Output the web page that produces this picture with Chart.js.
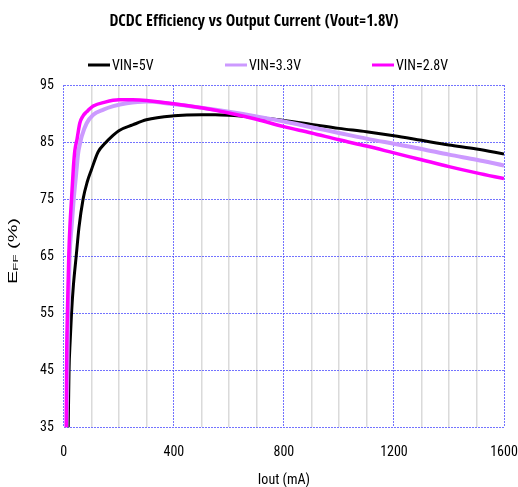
<!DOCTYPE html>
<html>
<head>
<meta charset="utf-8">
<script src="https://cdn.jsdelivr.net/npm/chart.js@4.4.1/dist/chart.umd.min.js"></script>
<style>
  body { margin: 0; background: #fff; }
  #wrap { width: 518px; height: 487px; }
</style>
</head>
<body>
<div id="wrap"><canvas id="chart" width="518" height="487"></canvas></div>
<script>
// Efficiency curves (Iout in mA, efficiency in %)
const vin5X = [16, 19, 23, 28, 35, 45, 55, 70, 85, 100, 125, 150, 175, 200, 250, 300, 400, 500, 550, 600, 700, 800, 900, 1000, 1100, 1200, 1300, 1400, 1500, 1600];
const vin5Y = [35, 45, 50, 55, 60, 65, 70, 75, 78, 80.1, 83.3, 84.8, 86.0, 87.0, 88.0, 88.9, 89.6, 89.8, 89.8, 89.7, 89.3, 88.8, 88.1, 87.4, 86.8, 86.1, 85.3, 84.5, 83.8, 82.9];

const vin33X = [10, 13, 16, 21, 28, 36, 45, 52, 60, 65, 83, 107, 144, 180, 229, 302, 387, 500, 600, 700, 800, 900, 1000, 1100, 1200, 1300, 1400, 1500, 1600];
const vin33Y = [35, 45, 55, 65, 70, 75, 79.5, 83.0, 85.0, 86.0, 88.3, 89.8, 90.7, 91.3, 91.8, 92.1, 91.7, 91.0, 90.3, 89.5, 88.6, 87.6, 86.6, 85.6, 84.7, 83.8, 82.8, 81.9, 80.9];

const vin28X = [9, 10, 13, 18, 22, 28, 35, 40, 48, 58, 70, 83, 107, 150, 200, 250, 300, 400, 500, 600, 700, 800, 900, 1000, 1100, 1200, 1300, 1400, 1500, 1600];
const vin28Y = [35, 45, 55, 65, 70, 75, 80.7, 83.5, 85.5, 88.3, 89.6, 90.3, 91.3, 92.0, 92.4, 92.4, 92.3, 91.7, 91.0, 90.1, 89.0, 87.7, 86.6, 85.4, 84.3, 83.1, 81.9, 80.7, 79.6, 78.6];

const seriesNames = ['VIN=5V', 'VIN=3.3V', 'VIN=2.8V'];
const seriesColors = ['#000000', '#cc99ff', '#ff00ff'];
const xTicksShown = [0, 400, 800, 1200, 1600];
const chartTitle = 'DCDC Efficiency vs Output Current (Vout=1.8V)';

const narrow = "'Roboto Condensed', 'Liberation Sans Narrow', sans-serif";
const blueGrid = 'rgba(80, 80, 255, 0.8)';
const grayGrid = '#dadada';

function toPoints(xs, ys) {
  return xs.map((x, i) => ({ x: x, y: ys[i] }));
}

// title and legend drawn by hand so they sit where the original has them
const legendX = [88, 225, 372];
const legendY = 65;
const headerPlugin = {
  id: 'header',
  afterDraw(chart) {
    const ctx = chart.ctx;
    ctx.save();
    ctx.fillStyle = '#000';
    ctx.textBaseline = 'middle';
    ctx.textAlign = 'center';
    ctx.font = "bold 16px 'Open Sans Condensed', " + narrow;
    ctx.fillText(chartTitle, 254, 22);

    ctx.textAlign = 'left';
    ctx.font = "14px " + narrow;
    chart.data.datasets.forEach((ds, i) => {
      const x = legendX[i];
      ctx.strokeStyle = ds.borderColor;
      ctx.lineWidth = 3;
      ctx.beginPath();
      ctx.moveTo(x, legendY);
      ctx.lineTo(x + 22, legendY);
      ctx.stroke();
      ctx.fillText(ds.label, x + 24, legendY + 1);
    });
    ctx.restore();
  }
};

// y axis title with the subscript "FF", stretched along the text like the original
const yTitlePlugin = {
  id: 'yTitle',
  afterDraw(chart) {
    const ctx = chart.ctx;
    ctx.save();
    ctx.translate(17, 251);
    ctx.rotate(-Math.PI / 2);
    ctx.fillStyle = '#000';
    ctx.textBaseline = 'alphabetic';
    const big = "12px 'Liberation Sans', Arial, sans-serif";
    const small = "8px 'Liberation Sans', Arial, sans-serif";
    ctx.font = big;
    const wE = ctx.measureText('E').width;
    const wRest = ctx.measureText(' (%)').width;
    ctx.font = small;
    const wFF = ctx.measureText('FF').width;
    const total = wE + wFF + wRest;
    ctx.scale(66 / total, 1);
    let x = -total / 2;
    ctx.font = big;
    ctx.fillText('E', x, 0);
    x += wE;
    ctx.font = small;
    ctx.fillText('FF', x, 1);
    x += wFF;
    ctx.font = big;
    ctx.fillText(' (%)', x, 0);
    ctx.restore();
  }
};

const ctx = document.getElementById('chart').getContext('2d');
const chart = new Chart(ctx, {
  type: 'line',
  data: {
    datasets: [
      {
        label: seriesNames[0],
        data: toPoints(vin5X, vin5Y),
        borderColor: seriesColors[0],
        borderWidth: 3,
        order: 3
      },
      {
        label: seriesNames[1],
        data: toPoints(vin33X, vin33Y),
        borderColor: seriesColors[1],
        borderWidth: 4,
        order: 2
      },
      {
        label: seriesNames[2],
        data: toPoints(vin28X, vin28Y),
        borderColor: seriesColors[2],
        borderWidth: 3.5,
        order: 1
      }
    ]
  },
  options: {
    responsive: false,
    animation: false,
    elements: {
      point: { radius: 0 },
      line: { cubicInterpolationMode: 'monotone' }
    },
    layout: {
      padding: { left: 30, right: 2, top: 85, bottom: 0 }
    },
    plugins: {
      tooltip: { enabled: false },
      legend: { display: false },
      title: { display: false }
    },
    scales: {
      x: {
        type: 'linear',
        min: 0,
        max: 1600,
        afterFit: s => { s.paddingRight = 14; },
        title: {
          display: true,
          text: 'Iout (mA)',
          color: '#000',
          font: { family: narrow, size: 14 },
          padding: { top: -6, bottom: -2 }
        },
        ticks: {
          stepSize: 100,
          autoSkip: false,
          maxRotation: 0,
          color: '#000',
          padding: 17,
          font: { family: narrow, size: 14 },
          callback: v => xTicksShown.includes(v) ? String(v) : ''
        },
        grid: {
          drawTicks: false,
          color: c => (c.tick && c.tick.value % 400 === 0) ? blueGrid : grayGrid,
          lineWidth: c => (c.tick && c.tick.value % 400 === 0) ? 1 : 1.5
        },
        border: {
          display: false,
          dash: c => (c.tick && c.tick.value % 400 === 0) ? [2, 1] : []
        }
      },
      y: {
        min: 35,
        max: 95,
        ticks: {
          stepSize: 10,
          color: '#000',
          padding: 10,
          font: { family: narrow, size: 14 }
        },
        grid: {
          drawTicks: false,
          color: blueGrid,
          lineWidth: 1
        },
        border: {
          display: false,
          dash: [2, 1]
        }
      }
    }
  },
  plugins: [headerPlugin, yTitlePlugin]
});
</script>
</body>
</html>
